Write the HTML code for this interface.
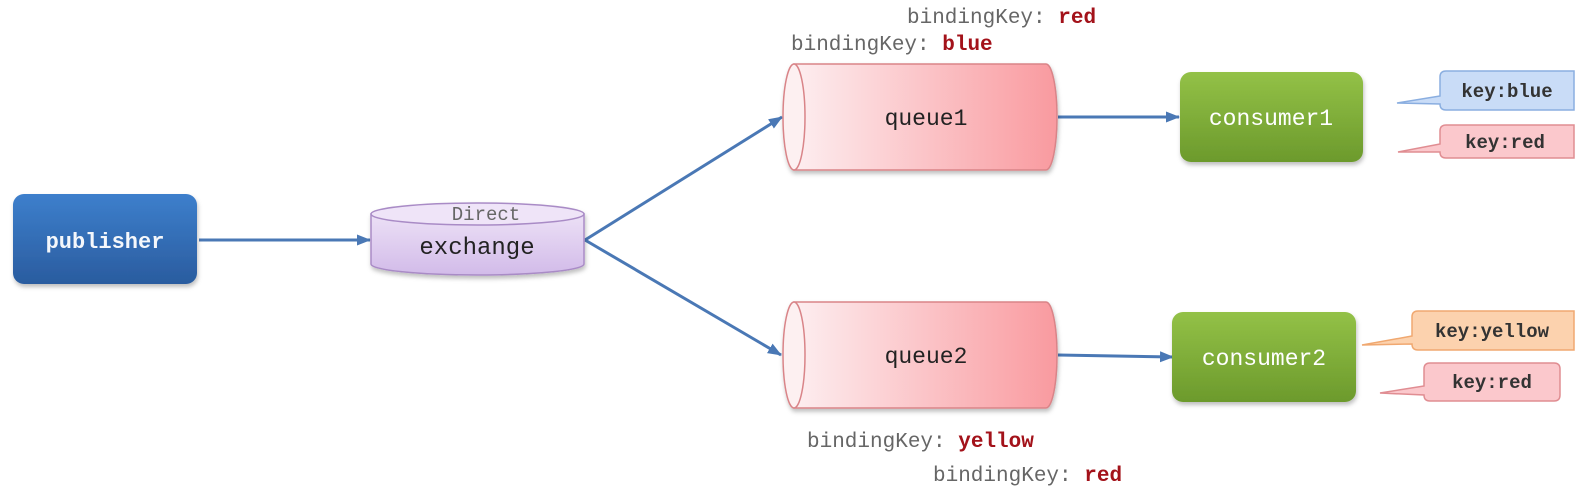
<!DOCTYPE html>
<html><head><meta charset="utf-8"><style>
html,body{margin:0;padding:0;background:#fff;width:1586px;height:494px;overflow:hidden}
text{font-family:"Liberation Mono","DejaVu Sans Mono",monospace}
</style></head><body>
<svg width="1586" height="494" viewBox="0 0 1586 494" xmlns="http://www.w3.org/2000/svg">
<defs>
<linearGradient id="pub" x1="0" y1="0" x2="0" y2="1"><stop offset="0" stop-color="#3d7fcc"/><stop offset="1" stop-color="#2a5c9f"/></linearGradient>
<linearGradient id="grn" x1="0" y1="0" x2="0" y2="1"><stop offset="0" stop-color="#93c147"/><stop offset="1" stop-color="#6c9a2c"/></linearGradient>
<linearGradient id="exg" x1="0" y1="0" x2="0" y2="1"><stop offset="0" stop-color="#ece0f6"/><stop offset="1" stop-color="#d2bbe9"/></linearGradient>
<linearGradient id="q" x1="0" y1="0" x2="1" y2="0"><stop offset="0" stop-color="#fdeef0"/><stop offset="1" stop-color="#f99a9f"/></linearGradient>
<marker id="ar" markerWidth="14" markerHeight="14" refX="13" refY="7" orient="auto" markerUnits="userSpaceOnUse"><path d="M0,1.5 L14,7 L0,12.5 Z" fill="#4a78b5"/></marker>
<filter id="sh" x="-10%" y="-10%" width="130%" height="140%"><feDropShadow dx="1" dy="3" stdDeviation="2" flood-color="#000" flood-opacity="0.25"/></filter>
</defs>

<g stroke="#4a78b5" stroke-width="3" fill="none" marker-end="url(#ar)">
<line x1="199" y1="240" x2="370" y2="240"/>
<line x1="585" y1="240" x2="782" y2="117"/>
<line x1="585" y1="240" x2="781" y2="355"/>
<line x1="1058" y1="117" x2="1179" y2="117"/>
<line x1="1058" y1="355" x2="1173" y2="357"/>
</g>

<rect x="13" y="194" width="184" height="90" rx="11" fill="url(#pub)" filter="url(#sh)"/>
<text x="105" y="248" font-size="22" font-weight="bold" fill="#fff" text-anchor="middle" opacity="0.95">publisher</text>

<g filter="url(#sh)">
<path d="M371,214 L371,264 A106.5,11 0 0 0 584,264 L584,214 Z" fill="url(#exg)" stroke="#a98bc6" stroke-width="1.5"/>
<ellipse cx="477.5" cy="214" rx="106.5" ry="11" fill="#efe4f8" stroke="#a98bc6" stroke-width="1.5"/>
</g>
<text x="486" y="220" font-size="19" fill="#666" text-anchor="middle">Direct</text>
<text x="477" y="254" font-size="24" fill="#222" text-anchor="middle">exchange</text>

<g filter="url(#sh)">
<path d="M794,64 L1046,64 A11,53 0 0 1 1046,170 L794,170 Z" fill="url(#q)" stroke="#d98488" stroke-width="1.5"/>
<ellipse cx="794" cy="117" rx="11" ry="53" fill="#fdf0f1" stroke="#d98488" stroke-width="1.5"/>
</g>
<text x="926" y="125" font-size="23" fill="#222" text-anchor="middle">queue1</text>

<g filter="url(#sh)">
<path d="M794,302 L1046,302 A11,53 0 0 1 1046,408 L794,408 Z" fill="url(#q)" stroke="#d98488" stroke-width="1.5"/>
<ellipse cx="794" cy="355" rx="11" ry="53" fill="#fdf0f1" stroke="#d98488" stroke-width="1.5"/>
</g>
<text x="926" y="363" font-size="23" fill="#222" text-anchor="middle">queue2</text>

<rect x="1180" y="72" width="183" height="90" rx="11" fill="url(#grn)" filter="url(#sh)"/>
<text x="1271" y="125" font-size="23" fill="#fff" text-anchor="middle">consumer1</text>
<rect x="1172" y="312" width="184" height="90" rx="11" fill="url(#grn)" filter="url(#sh)"/>
<text x="1264" y="365" font-size="23" fill="#fff" text-anchor="middle">consumer2</text>

<path d="M1446,71 L1574,71 L1574,110 L1446,110 Q1440,110 1440,104 L1397,103 L1440,96 L1440,77 Q1440,71 1446,71 Z" fill="#c9dcf7" stroke="#8aaee0" stroke-width="1.5"/>
<text x="1507" y="97" font-size="19" font-weight="bold" fill="#333" text-anchor="middle">key:blue</text>
<path d="M1446,125 L1574,125 L1574,158 L1446,158 Q1440,158 1440,152 L1398,152 L1440,144 L1440,131 Q1440,125 1446,125 Z" fill="#fbc8cc" stroke="#e08d92" stroke-width="1.5"/>
<text x="1505" y="148" font-size="19" font-weight="bold" fill="#333" text-anchor="middle">key:red</text>
<path d="M1418,311 L1574,311 L1574,350 L1418,350 Q1412,350 1412,344 L1362,345 L1412,336 L1412,317 Q1412,311 1418,311 Z" fill="#fcd2ae" stroke="#f0a870" stroke-width="1.5"/>
<text x="1492" y="337" font-size="19" font-weight="bold" fill="#333" text-anchor="middle">key:yellow</text>
<path d="M1430,363 L1554,363 Q1560,363 1560,369 L1560,395 Q1560,401 1554,401 L1430,401 Q1424,401 1424,395 L1380,393 L1424,386 L1424,369 Q1424,363 1430,363 Z" fill="#fbc8cc" stroke="#e08d92" stroke-width="1.5"/>
<text x="1492" y="388" font-size="19" font-weight="bold" fill="#333" text-anchor="middle">key:red</text>

<g font-size="21" fill="#666">
<text x="907" y="23">bindingKey: <tspan fill="#a3121a" font-weight="bold">red</tspan></text>
<text x="791" y="50">bindingKey: <tspan fill="#a3121a" font-weight="bold">blue</tspan></text>
<text x="807" y="447">bindingKey: <tspan fill="#a3121a" font-weight="bold">yellow</tspan></text>
<text x="933" y="481">bindingKey: <tspan fill="#a3121a" font-weight="bold">red</tspan></text>
</g>
</svg>
</body></html>
